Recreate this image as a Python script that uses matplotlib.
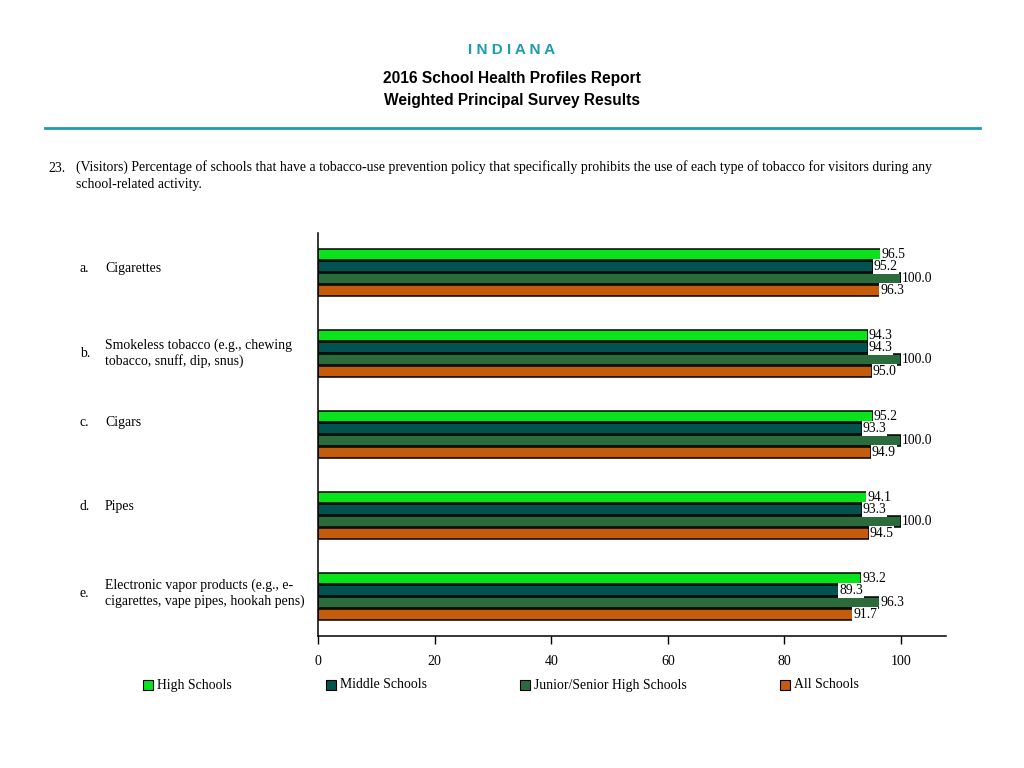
import numpy as np
import matplotlib.pyplot as plt
from matplotlib.patches import Rectangle
from matplotlib.lines import Line2D

# -------------------------
# data
# -------------------------

letters = ["a.", "b.", "c.", "d.", "e."]
categories = [
    "Cigarettes",
    "Smokeless tobacco (e.g., chewing\ntobacco, snuff, dip, snus)",
    "Cigars",
    "Pipes",
    "Electronic vapor products (e.g., e-\ncigarettes, vape pipes, hookah pens)",
]
series_names = ["High Schools", "Middle Schools", "Junior/Senior High Schools", "All Schools"]
high_schools = [96.5, 94.3, 95.2, 94.1, 93.2]
middle_schools = [95.2, 94.3, 93.3, 93.3, 89.3]
junior_senior = [100.0, 100.0, 100.0, 100.0, 96.3]
all_schools = [96.3, 95.0, 94.9, 94.5, 91.7]
xticks = [0, 20, 40, 60, 80, 100]

colors = ["#08e31c", "#02524f", "#2b6b3c", "#c45c0c"]
teal = "#1a9db1"
serif = ["Liberation Serif", "DejaVu Serif"]
sans = ["Liberation Sans", "DejaVu Sans"]

# vertical nudge of the category labels, in pixels
label_dy = [-4, 0, -12, -9, -3]

# -------------------------
# figure
# -------------------------

fig = plt.figure(figsize=(10.24, 7.68), dpi=100)

fig.text(0.5, 1 - 50 / 768, "I N D I A N A", ha="center", va="center",
         fontsize=11, fontweight="bold", color=teal, family=sans)
fig.text(0.5, 1 - 79 / 768, "2016 School Health Profiles Report", ha="center", va="center",
         fontsize=11.2, fontweight="bold", family=sans)
fig.text(0.5, 1 - 101 / 768, "Weighted Principal Survey Results", ha="center", va="center",
         fontsize=11.2, fontweight="bold", family=sans)

fig.add_artist(Line2D([45 / 1024, 980 / 1024], [1 - 128 / 768, 1 - 128 / 768],
                      color=teal, linewidth=2))

fig.text(48 / 1024, 1 - 168 / 768, "23.", ha="left", va="center", fontsize=9.9, family=serif)
fig.text(76 / 1024, 1 - 176 / 768,
         "(Visitors) Percentage of schools that have a tobacco-use prevention policy that specifically "
         "prohibits the use of each type of tobacco for visitors during any\nschool-related activity.",
         ha="left", va="center", fontsize=9.9, family=serif, linespacing=1.4)

# -------------------------
# bars
# -------------------------

ax = fig.add_axes([318 / 1024, 1 - 636 / 768, (946 - 318) / 1024, (636 - 233) / 768])

y = np.arange(len(categories))
bar_h = 11 / 81
step = 12 / 81
offsets = (np.arange(4) - 1.5) * step

for k, vals in enumerate([high_schools, middle_schools, junior_senior, all_schools]):
    ax.barh(y + offsets[k], vals, height=bar_h, color=colors[k],
            edgecolor="black", linewidth=1.1, label=series_names[k])
    for yi, v in zip(y + offsets[k], vals):
        ax.text(v + 0.1, yi, f"{v:.1f}", ha="left", va="center", fontsize=9.8,
                family=serif, bbox=dict(facecolor="white", edgecolor="none", pad=0.6))

ax.set_xlim(0, 107.7)
ax.set_ylim(4.49, -0.49)
ax.set_xticks(xticks)
ax.set_xticklabels([str(t) for t in xticks], family=serif, fontsize=10)
ax.set_yticks([])
ax.tick_params(axis="x", direction="out", length=6, width=1, pad=8)
ax.spines["top"].set_visible(False)
ax.spines["right"].set_visible(False)
for s in ["left", "bottom"]:
    ax.spines[s].set_linewidth(1.1)

# category labels
trans = ax.get_yaxis_transform()
for i in range(len(categories)):
    yl = y[i] + label_dy[i] / 81
    ax.text((80 - 318) / 628, yl, letters[i], transform=trans,
            ha="left", va="center", fontsize=9.9, family=serif)
    ax.text((105 - 318) / 628, yl, categories[i], transform=trans,
            ha="left", va="center", fontsize=9.9, family=serif, linespacing=1.2)

# -------------------------
# legend
# -------------------------

legend_x = [148, 331, 525, 785]
for k in range(4):
    fig.add_artist(Rectangle(((legend_x[k] - 5) / 1024, 1 - 690 / 768), 10 / 1024, 10 / 768,
                             facecolor=colors[k], edgecolor="black", linewidth=0.8))
    fig.text((legend_x[k] + 9) / 1024, 1 - 685 / 768, series_names[k], ha="left", va="center",
             fontsize=9.9, family=serif)

fig.savefig("out.png", dpi=100)
plt.close(fig)
